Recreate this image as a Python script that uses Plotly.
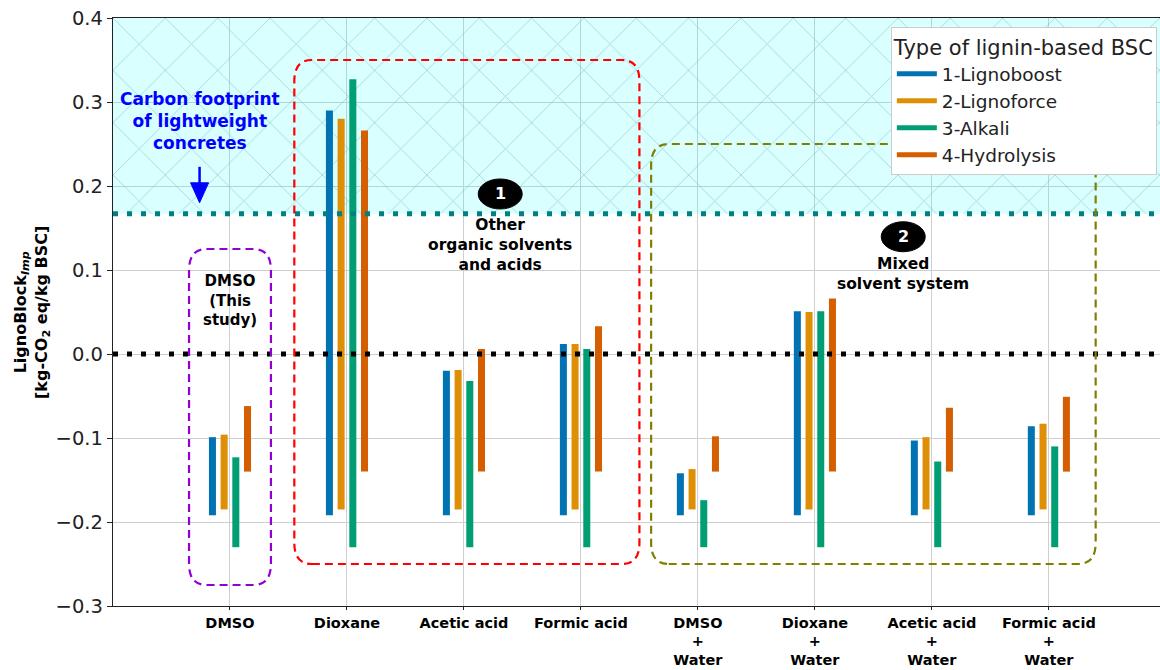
import plotly.graph_objects as go

# Solvent systems (x categories)
categories = ["DMSO", "Dioxane", "Acetic acid", "Formic acid",
              "DMSO<br>+<br>Water", "Dioxane<br>+<br>Water",
              "Acetic acid<br>+<br>Water", "Formic acid<br>+<br>Water"]

# LignoBlock impact range (kg-CO2 eq / kg BSC): lower and upper bound per series
lignoboost_low = [-0.192, -0.192, -0.192, -0.192, -0.192, -0.192, -0.192, -0.192]
lignoboost_high = [-0.099, 0.290, -0.020, 0.012, -0.142, 0.051, -0.103, -0.086]
lignoforce_low = [-0.185, -0.185, -0.185, -0.185, -0.185, -0.185, -0.185, -0.185]
lignoforce_high = [-0.096, 0.280, -0.019, 0.012, -0.137, 0.050, -0.099, -0.083]
alkali_low = [-0.230, -0.230, -0.230, -0.230, -0.230, -0.230, -0.230, -0.230]
alkali_high = [-0.123, 0.327, -0.032, 0.006, -0.174, 0.051, -0.128, -0.110]
hydrolysis_low = [-0.140, -0.140, -0.140, -0.140, -0.140, -0.140, -0.140, -0.140]
hydrolysis_high = [-0.062, 0.266, 0.006, 0.033, -0.098, 0.066, -0.064, -0.051]

series_names = ["1-Lignoboost", "2-Lignoforce", "3-Alkali", "4-Hydrolysis"]
series_colors = ["#0173b2", "#de8f05", "#029e73", "#d55e00"]
series_low = [lignoboost_low, lignoforce_low, alkali_low, hydrolysis_low]
series_high = [lignoboost_high, lignoforce_high, alkali_high, hydrolysis_high]
offsets = [-0.15, -0.05, 0.05, 0.15]
bar_width = 0.06

# Carbon footprint of lightweight concretes
concrete_footprint = 0.167

X_MIN, X_MAX = -1.0, 7.95
Y_MIN, Y_MAX = -0.3, 0.4
FONT = "DejaVu Sans"

fig = go.Figure()

# Hatched band above the concrete footprint
fig.add_trace(go.Bar(
    x=[(X_MIN + X_MAX) / 2], y=[Y_MAX - concrete_footprint], base=[concrete_footprint],
    width=[X_MAX - X_MIN],
    marker=dict(color="rgba(0,255,255,0.15)", line=dict(width=0),
                pattern=dict(shape="x", size=37, solidity=0.05,
                             fgcolor="#6fb8b8", fgopacity=0.5, fillmode="overlay")),
    showlegend=False, hoverinfo="skip",
))

# Floating range bars
n = len(categories)
for name, color, low, high, off in zip(series_names, series_colors, series_low, series_high, offsets):
    fig.add_trace(go.Bar(
        x=[i + off for i in range(n)],
        y=[h - l for h, l in zip(high, low)],
        base=low,
        width=bar_width,
        marker=dict(color=color, line=dict(width=0)),
        name=name, showlegend=False,
    ))
    # Line-style legend entry
    fig.add_trace(go.Scatter(x=[None], y=[None], mode="lines", name=name,
                             line=dict(color=color, width=5)))

shapes = []

# Reference lines
shapes.append(dict(type="line", xref="x", yref="y", x0=X_MIN, x1=X_MAX,
                   y0=concrete_footprint, y1=concrete_footprint,
                   line=dict(color="#008080", width=5, dash="5px,9px"), layer="above"))
shapes.append(dict(type="line", xref="x", yref="y", x0=X_MIN, x1=X_MAX, y0=0, y1=0,
                   line=dict(color="black", width=5, dash="5px,9px"), layer="above"))


def rounded_box(x0, x1, y0, y1, rx=0.15, ry=0.025):
    return (f"M {x0 + rx},{y0} L {x1 - rx},{y0} Q {x1},{y0} {x1},{y0 + ry} "
            f"L {x1},{y1 - ry} Q {x1},{y1} {x1 - rx},{y1} "
            f"L {x0 + rx},{y1} Q {x0},{y1} {x0},{y1 - ry} "
            f"L {x0},{y0 + ry} Q {x0},{y0} {x0 + rx},{y0} Z")


group_boxes = [
    (-0.35, 0.35, -0.275, 0.125, "#9400d3"),
    (0.55, 3.50, -0.25, 0.35, "#ff0000"),
    (3.60, 7.40, -0.25, 0.25, "#808000"),
]
for x0, x1, y0, y1, c in group_boxes:
    shapes.append(dict(type="path", xref="x", yref="y", path=rounded_box(x0, x1, y0, y1),
                       line=dict(color=c, width=2.2, dash="8px,5px"), layer="above"))

# Numbered badges
badges = [("1", 2.31, 0.1905), ("2", 5.755, 0.1396)]
for _, bx, by in badges:
    shapes.append(dict(type="circle", xref="x", yref="y", xsizemode="pixel", ysizemode="pixel",
                       xanchor=bx, yanchor=by, x0=-22, x1=22, y0=-15, y1=15,
                       fillcolor="black", line=dict(color="black", width=1), layer="above"))

# Downward arrow to the concrete footprint line
arrow_x, arrow_tip = -0.26, 0.180
shapes.append(dict(type="line", xref="x", yref="y", xsizemode="pixel", ysizemode="pixel",
                   xanchor=arrow_x, yanchor=arrow_tip, x0=0, x1=0, y0=18, y1=36,
                   line=dict(color="#0000ff", width=2.5), layer="above"))
shapes.append(dict(type="path", xref="x", yref="y", xsizemode="pixel", ysizemode="pixel",
                   xanchor=arrow_x, yanchor=arrow_tip, path="M -9,20 L 9,20 L 0,0 Z",
                   fillcolor="#0000ff", line=dict(color="#0000ff", width=1), layer="above"))

annotations = [
    dict(x=-0.26, y=0.277, text="<b>Carbon footprint<br>of lightweight<br>concretes</b>",
         font=dict(family=FONT, size=17, color="#0000ff")),
    dict(x=0, y=0.064, text="<b>DMSO<br>(This<br>study)</b>",
         font=dict(family=FONT, size=15, color="black")),
    dict(x=2.31, y=0.130, text="<b>Other<br>organic solvents<br>and acids</b>",
         font=dict(family=FONT, size=15.5, color="black")),
    dict(x=5.755, y=0.095, text="<b>Mixed<br>solvent system</b>",
         font=dict(family=FONT, size=15.5, color="black")),
]
for label, bx, by in badges:
    annotations.append(dict(x=bx, y=by, text=f"<b>{label}</b>",
                            font=dict(family=FONT, size=16, color="white")))
for a in annotations:
    a.update(xref="x", yref="y", showarrow=False, xanchor="center", yanchor="middle")

annotations.append(dict(
    xref="paper", yref="paper", x=-0.0774, y=0.5, showarrow=False, textangle=-90,
    xanchor="center", yanchor="middle",
    text="<b>LignoBlock<sub><i>Imp</i></sub></b><br><b>[kg-CO<sub>2</sub> eq/kg BSC]</b>",
    font=dict(family=FONT, size=16, color="black"),
))

fig.update_layout(
    width=1160, height=670,
    margin=dict(l=113, r=0, t=18, b=64),
    paper_bgcolor="white", plot_bgcolor="white",
    barmode="overlay",
    shapes=shapes, annotations=annotations,
    font=dict(family=FONT, color="black"),
    legend=dict(
        x=0.997, xanchor="right", y=0.985, yanchor="top",
        bgcolor="white", bordercolor="#cccccc", borderwidth=1,
        font=dict(family=FONT, size=18.5, color="#222222"),
        title=dict(text="Type of lignin-based BSC", side="top center",
                   font=dict(family=FONT, size=21, color="#222222")),
        itemwidth=40,
    ),
    xaxis=dict(
        range=[X_MIN, X_MAX], tickvals=list(range(n)), ticktext=categories,
        tickfont=dict(family=FONT, size=14.5, color="black", weight="bold"),
        showgrid=True, gridcolor="#cfcfcf", gridwidth=1.2,
        showline=True, linecolor="#222222", linewidth=1.3, mirror=True,
        ticks="outside", ticklen=3, tickcolor="#222222", zeroline=False,
        automargin=False,
    ),
    yaxis=dict(
        range=[Y_MIN, Y_MAX], tickvals=[-0.3, -0.2, -0.1, 0.0, 0.1, 0.2, 0.3, 0.4],
        tickformat=".1f",
        tickfont=dict(family=FONT, size=19.5, color="#222222"),
        showgrid=True, gridcolor="#cfcfcf", gridwidth=1.2,
        showline=True, linecolor="#222222", linewidth=1.3, mirror=False,
        ticks="outside", ticklen=5, tickcolor="#222222", zeroline=False,
        automargin=False,
    ),
)

fig.write_html("out.html")
